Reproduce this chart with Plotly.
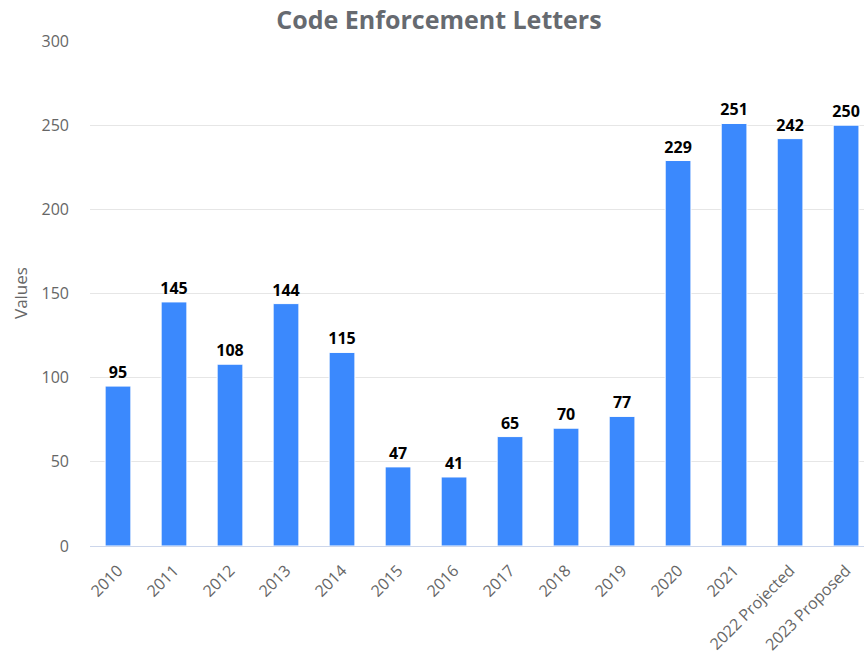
import plotly.graph_objects as go

categories = ["2010", "2011", "2012", "2013", "2014", "2015", "2016", "2017", "2018", "2019",
              "2020", "2021", "2022 Projected", "2023 Proposed"]
values = [95, 145, 108, 144, 115, 47, 41, 65, 70, 77, 229, 251, 242, 250]

FONT = "Open Sans"

fig = go.Figure(go.Bar(
    x=categories,
    y=values,
    text=[str(v) for v in values],
    textposition="outside",
    constraintext="none",
    textfont=dict(family=FONT, size=16, color="#000000", weight="bold"),
    cliponaxis=False,
    marker=dict(color="#3b89fd", line=dict(color="#ffffff", width=1)),
))

fig.update_layout(
    width=864, height=659,
    margin=dict(l=90, r=0, t=41, b=113),
    paper_bgcolor="white", plot_bgcolor="white",
    bargap=0.54,
    showlegend=False,
    uniformtext=dict(mode=False),
    title=dict(text="<b>Code Enforcement Letters</b>", x=439/864, xanchor="center",
               y=1 - 20/659, yanchor="middle",
               font=dict(family=FONT, size=25, color="#666a70")),
    font=dict(family=FONT, color="#666666"),
    annotations=[dict(text="Values", textangle=-90, xref="paper", yref="paper",
                      x=(20 - 90) / 774, y=(546 - 293) / 505, xanchor="center", yanchor="middle",
                      showarrow=False, font=dict(family=FONT, size=17, color="#666666"))],
)
fig.update_xaxes(
    range=[-0.5, 13.32],
    tickangle=-45,
    tickfont=dict(family=FONT, size=16, color="#666666"),
    showline=True, linecolor="#ccd6eb", linewidth=1,
    showgrid=False, ticks="", automargin=False,
    ticklabelstandoff=8,
)
fig.update_yaxes(
    range=[0, 300], dtick=50,
    tickfont=dict(family=FONT, size=16, color="#666666"),
    gridcolor="#e6e6e6", gridwidth=1,
    zeroline=False, automargin=False,
    ticklabelstandoff=20,
)

fig.write_html("out.html", config={"displayModeBar": False},
               post_script="document.body.style.margin='0';")
